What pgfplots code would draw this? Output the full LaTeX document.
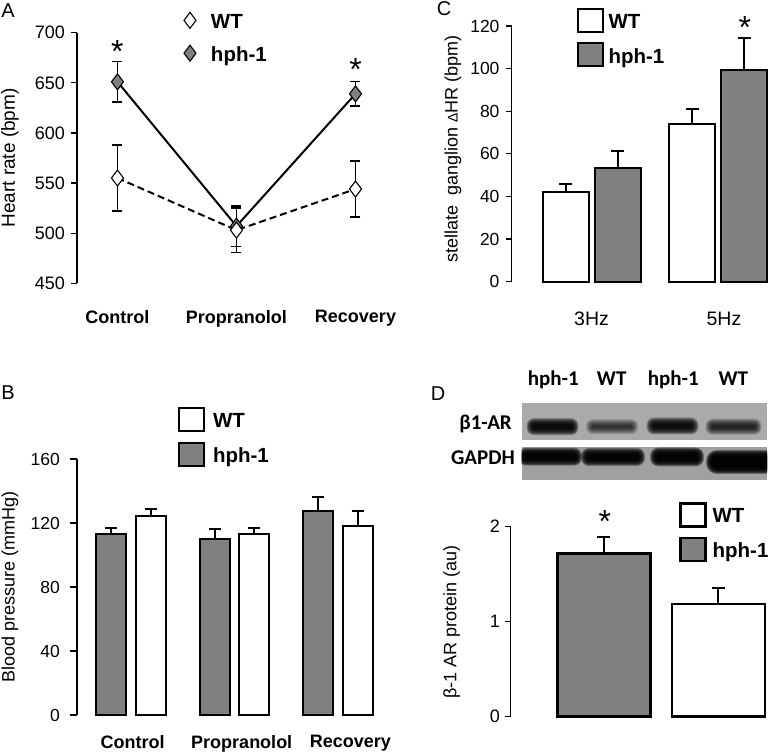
\documentclass[border=0pt]{standalone}
\usepackage{pgfplots}
\pgfplotsset{compat=1.18}
\usepackage{fontspec}
\setmainfont{Liberation Sans}
\newfontfamily\blotfont{Carlito}
\definecolor{hph}{RGB}{128,128,128}
\definecolor{blotA}{RGB}{170,170,170}
\definecolor{blotB}{RGB}{160,160,160}
\newcommand{\fs}[1]{\fontsize{#1}{#1}\selectfont}

% one blot band: centre x, centre y, half width, half height, strength
\newcommand{\band}[5]{%
  \pgfmathsetmacro\op{0.27*#5}%
  \foreach \e in {5,4.2,3.4,2.6,1.8,1,0.2,-0.6,-1.4} {
    \fill[black, opacity=\op, rounded corners={#4pt+\e pt-1pt}]
      ({#1pt-#3pt-\e pt},{#2pt-#4pt-\e pt}) rectangle ({#1pt+#3pt+\e pt},{#2pt+#4pt+\e pt});
  }
}

\pgfplotsset{
  base/.style={
    scale only axis, anchor=south west, clip=false,
    axis lines*=left,
    axis line style={-},
    x axis line style={draw=none},
    y axis line style={line width=1.3pt},
    tick align=outside, ytick pos=left,
    ytick style={line width=1.3pt, black},
    xtick style={draw=none},
    /pgf/number format/assume math mode=true,
    tick label style={font=\fs{18}},
    legend cell align=left,
    legend style={draw=none, fill=none, inner sep=0pt, outer sep=0pt,
      anchor=north west, nodes={inner sep=0pt}, font=\fs{20.5}\bfseries},
  },
  barleg/.style={
    legend image code/.code={\draw[##1] (0pt,-10pt) rectangle (25pt,13pt);},
  },
  errs/.style={
    error bars/.cd, y dir=plus, y explicit,
    error bar style={line width=2pt},
    error mark options={rotate=90, mark size=#1, line width=2pt},
  },
}

\begin{document}
\begin{tikzpicture}
\useasboundingbox (0,0) rectangle (771pt,754pt);

% ---------- A: heart rate ----------
\begin{axis}[base,
  at={(77pt,470.7pt)}, width=314.2pt, height=250.6pt,
  xmin=0.66, xmax=3.3, ymin=450, ymax=700,
  ytick={450,500,...,700}, major tick length=5.5pt,
  xtick={1,2,3}, xticklabels={Control,Propranolol,Recovery},
  xticklabel style={font=\fs{18}\bfseries, yshift=-17.7pt},
  yticklabel style={xshift=-3pt},
  ylabel={Heart rate (bpm)},
  ylabel style={font=\fs{19}, at={(axis description cs:-0.213,0.5)}, anchor=center},
  legend image code/.code={\draw[#1] plot coordinates {(0pt,1.5pt)};},
  legend style={at={(axis description cs:0.3405,1.081)}, row sep=15.5pt,
    /tikz/every odd column/.append style={column sep=15pt}},
]
\addplot[forget plot, black, line width=2pt, mark=diamond*, mark size=8pt,
  mark options={solid, fill=hph, line width=1.1pt},
  error bars/.cd, y dir=both, y explicit,
  error bar style={line width=1.3pt, solid},
  error mark options={rotate=90, mark size=5pt, line width=1.3pt}]
  coordinates {(1,651) +- (0,20) (2,507) +- (0,20) (3,639) +- (0,12)};
\addplot[forget plot, black, line width=2pt, dash pattern=on 7pt off 4pt,
  mark=diamond*, mark size=8pt,
  mark options={solid, fill=white, line width=1.1pt},
  error bars/.cd, y dir=both, y explicit,
  error bar style={line width=1.3pt, solid},
  error mark options={rotate=90, mark size=5pt, line width=1.3pt}]
  coordinates {(1,555) +- (0,33) (2,503) +- (0,22) (3,544) +- (0,28)};
\addlegendimage{draw=black, mark=diamond*, mark size=8pt, mark options={fill=white, line width=1.1pt}}
\addlegendentry{WT}
\addlegendimage{draw=black, mark=diamond*, mark size=8pt, mark options={fill=hph, line width=1.1pt}}
\addlegendentry{hph-1}
\node[font=\fs{32}] at (axis cs:1,681) {*};
\node[font=\fs{32}] at (axis cs:3,663) {*};
\end{axis}

% ---------- B: blood pressure ----------
% groups at 1,2,3; hph-1 bar left of centre, WT right of centre
\begin{axis}[base, barleg,
  at={(77pt,39pt)}, width=303.4pt, height=256pt,
  xmin=0.478, xmax=3.41, ymin=0, ymax=160,
  ytick={0,40,...,160}, major tick length=7pt,
  tick label style={font=\fs{17.5}},
  xtick={1.015,2.07,3.12}, xticklabels={Control,Propranolol,Recovery},
  xticklabel style={font=\fs{18}\bfseries, yshift=-9.7pt},
  yticklabel style={xshift=-6.7pt},
  ylabel={Blood pressure (mmHg)},
  ylabel style={font=\fs{18}, at={(axis description cs:-0.221,0.5)}, anchor=center},
  legend style={at={(axis description cs:0.3329,1.2031)}, row sep=9.5pt,
    /tikz/every odd column/.append style={column sep=8pt}},
]
\addplot[forget plot, ybar, bar width=30pt, bar shift=0pt, fill=hph, draw=black,
  line width=2pt, errs=6pt]
  coordinates {(0.811,113) +- (0,4) (1.811,110) +- (0,6) (2.811,127.5) +- (0,8.5)};
\addplot[forget plot, ybar, bar width=30pt, bar shift=0pt, fill=white, draw=black,
  line width=2pt, errs=6pt]
  coordinates {(1.189,124.5) +- (0,4) (2.189,113.3) +- (0,3.6) (3.189,118) +- (0,9.7)};
\addlegendimage{fill=white, draw=black, line width=2pt}
\addlegendentry{WT}
\addlegendimage{fill=hph, draw=black, line width=2pt}
\addlegendentry{hph-1}
\end{axis}

% ---------- C: stellate ganglion ----------
\begin{axis}[base, barleg,
  at={(511.7pt,472.3pt)}, width=258.5pt, height=255.7pt,
  xmin=0.37, xmax=2.41, ymin=0, ymax=120,
  ytick={0,20,...,120}, major tick length=5.3pt,
  tick label style={font=\fs{17.5}},
  xtick={1,2.045}, xticklabels={3Hz,5Hz},
  xticklabel style={font=\fs{19.5}, yshift=-21.4pt},
  yticklabel style={xshift=-3.4pt},
  ylabel={stellate\ \ ganglion {\fs{14}Δ}HR (bpm)},
  ylabel style={font=\fs{18}, at={(axis description cs:-0.227,0.52)}, anchor=center},
  legend style={at={(axis description cs:0.2526,1.0704)}, row sep=9.5pt,
    /tikz/every odd column/.append style={column sep=4.5pt}},
]
\addplot[forget plot, ybar, bar width=46pt, bar shift=0pt, fill=white, draw=black,
  line width=2pt, errs=6.5pt]
  coordinates {(0.795,42) +- (0,3.8) (1.795,74) +- (0,7)};
\addplot[forget plot, ybar, bar width=46pt, bar shift=0pt, fill=hph, draw=black,
  line width=2pt, errs=6.5pt]
  coordinates {(1.205,53.5) +- (0,7.8) (2.205,99.3) +- (0,15.2)};
\addlegendimage{fill=white, draw=black, line width=2pt}
\addlegendentry{WT}
\addlegendimage{fill=hph, draw=black, line width=2pt}
\addlegendentry{hph-1}
\node[font=\fs{32}] at (axis cs:2.21,119.5) {*};
\end{axis}

% ---------- D: beta1-AR protein ----------
\begin{axis}[base, barleg,
  at={(510.7pt,37.3pt)}, width=260.3pt, height=190pt,
  xmin=0.187, xmax=2.46, ymin=0, ymax=2,
  ytick={0,1,2}, xtick=\empty, major tick length=5.7pt,
  yticklabel style={xshift=-1.7pt},
  ylabel={β-1 AR protein (au)},
  ylabel style={font=\fs{18}, at={(axis description cs:-0.2267,0.5)}, anchor=center},
  legend style={at={(axis description cs:0.6466,1.13)}, row sep=9pt,
    /tikz/every odd column/.append style={column sep=6pt}},
]
\addplot[forget plot, ybar, bar width=93pt, bar shift=0pt, fill=hph, draw=black,
  line width=2.6pt, errs=6.5pt]
  coordinates {(1,1.72) +- (0,0.175)};
\addplot[forget plot, ybar, bar width=93pt, bar shift=0pt, fill=white, draw=black,
  line width=2.6pt, errs=6.5pt]
  coordinates {(2,1.186) +- (0,0.172)};
\addlegendimage{fill=white, draw=black, line width=2.6pt}
\addlegendentry{WT}
\addlegendimage{fill=hph, draw=black, line width=2.6pt}
\addlegendentry{hph-1}
\node[font=\fs{32}] at (axis cs:1.01,2.05) {*};
\end{axis}

% ---------- western blot (D, top) ----------
\begin{scope}
  \fill[blotA] (521.7pt,314pt) rectangle (767pt,350.7pt);
  \clip (521.7pt,314pt) rectangle (767pt,350.7pt);
  \band{552.5}{327.3}{21}{3.5}{0.95}
  \band{612}{327.3}{21}{2.5}{0.45}
  \band{672.5}{328}{21}{3.5}{0.85}
  \band{733.5}{327.3}{23}{3}{0.55}
\end{scope}
\begin{scope}
  \fill[blotB] (521.7pt,274pt) rectangle (767pt,307.3pt);
  \clip (521.7pt,274pt) rectangle (767pt,307.3pt);
  \band{550}{297.3}{27}{4}{1.2}
  \band{613}{297}{27}{4}{1.15}
  \band{677}{297}{22}{4.5}{1.2}
  \band{741}{292}{30}{7}{1.3}
\end{scope}
\begin{scope}[every node/.style={font=\blotfont\bfseries\fs{21}, inner sep=0pt}]
  \node[anchor=base east] at (512pt,324pt) {β1-AR};
  \node[anchor=base east] at (515pt,289pt) {GAPDH};
  \node[anchor=base] at (553.3pt,368pt) {hph-1};
  \node[anchor=base] at (611.7pt,368pt) {WT};
  \node[anchor=base] at (673.3pt,368pt) {hph-1};
  \node[anchor=base] at (733.3pt,368pt) {WT};
\end{scope}

% panel letters
\begin{scope}[every node/.style={font=\fs{20}, inner sep=0pt}]
  \node at (8pt,743pt) {A};
  \node at (444pt,745pt) {C};
  \node at (8pt,361pt) {B};
  \node at (438pt,360pt) {D};
\end{scope}
\end{tikzpicture}
\end{document}
